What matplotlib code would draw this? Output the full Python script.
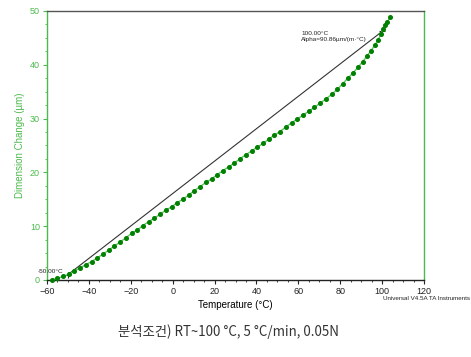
import matplotlib
matplotlib.use('Agg')
import matplotlib.pyplot as plt
from matplotlib.ticker import MultipleLocator

plt.rcParams['font.family'] = ['Liberation Sans', 'DejaVu Sans']

# temperature (°C) and dimension change (um)
temp = [-57.8, -55.1, -52.4, -49.6, -47.0, -44.2, -41.5, -38.7, -36.0, -33.3,
        -30.5, -27.9, -25.1, -22.5, -19.55, -16.9, -14.3, -11.4, -8.8, -6.0,
        -3.3, -0.45, 2.2, 5.1, 7.7, 10.3, 13.1, 15.9, 18.65, 21.3,
        23.9, 26.8, 29.45, 32.2, 35.0, 37.75, 40.4, 43.3, 45.9, 48.55,
        51.3, 54.1, 56.85, 59.5, 62.4, 65.0, 67.65, 70.4, 73.1, 75.95,
        78.6, 81.1, 83.6, 86.0, 88.4, 90.8, 92.7, 94.7, 96.6, 98.2,
        99.5, 100.3, 101.4, 102.5, 103.8]
dim = [0.0, 0.3, 0.65, 1.1, 1.65, 2.25, 2.85, 3.4, 4.1, 4.8,
       5.55, 6.3, 7.05, 7.8, 8.7, 9.3, 10.1, 10.85, 11.5, 12.2,
       13.0, 13.6, 14.4, 15.05, 15.8, 16.6, 17.35, 18.15, 18.8, 19.6,
       20.3, 21.05, 21.75, 22.55, 23.3, 24.0, 24.7, 25.4, 26.2, 26.9,
       27.6, 28.45, 29.25, 29.9, 30.7, 31.35, 32.1, 32.85, 33.65, 34.5,
       35.45, 36.45, 37.5, 38.45, 39.5, 40.6, 41.6, 42.6, 43.7, 44.7,
       45.7, 46.6, 47.4, 48.0, 48.8]

# tangent between the two analysis points
tan_t = [-50.0, 100.0]
tan_d = [1.0, 46.2]

green = '#4cbb4c'
dark_green = '#008000'

fig = plt.figure(figsize=(4.71, 3.57), dpi=100)
ax = fig.add_axes([0.0998, 0.2157, 0.8004, 0.7535])

ax.plot(tan_t, tan_d, color='#333333', lw=0.8, marker='+', ms=4.5, mew=0.8)
ax.plot(temp, dim, color='#5cc85c', lw=1.0, marker='o', ms=2.6,
        mfc=dark_green, mec=dark_green, clip_on=False, zorder=3)

ax.set_xlim(-60, 120)
ax.set_ylim(0, 50)
ax.xaxis.set_major_locator(MultipleLocator(20))
ax.xaxis.set_minor_locator(MultipleLocator(5))
ax.yaxis.set_major_locator(MultipleLocator(10))
ax.yaxis.set_minor_locator(MultipleLocator(2.5))

ax.spines['left'].set_color(green)
ax.spines['right'].set_color(green)
ax.spines['top'].set_color('#555555')
ax.spines['bottom'].set_color('#222222')
for s in ax.spines.values():
    s.set_linewidth(1.0)

ax.tick_params(axis='x', which='major', direction='out', length=3, width=0.8,
               labelsize=6.5, pad=2, colors='#222222')
ax.tick_params(axis='x', which='minor', direction='out', length=1.5, width=0.6,
               colors='#222222')
ax.tick_params(axis='y', which='major', direction='out', length=3, width=0.8,
               labelsize=6.5, pad=2, colors=green)
ax.tick_params(axis='y', which='minor', direction='out', length=1.5, width=0.6,
               colors=green)

ax.set_xlabel('Temperature (°C)', fontsize=7, labelpad=3)
ax.set_ylabel('Dimension Change (µm)', fontsize=7, color=green, labelpad=4)

ax.text(-64.3, 1.55, '-50.00°C', fontsize=4.6, color='#222222',
        ha='left', va='center', clip_on=False)
ax.text(61.5, 44.2, '100.00°C\nAlpha=90.86µm/(m·°C)', fontsize=4.6,
        color='#222222', ha='left', va='bottom', linespacing=1.2)

fig.text(0.997, 0.1625, 'Universal V4.5A TA Instruments', fontsize=4.5,
         ha='right', va='center', color='#222222')

fig.text(0.485, 0.072, '분석조건) RT~100 °C, 5 °C/min, 0.05N', fontsize=9.6,
         ha='center', va='center', color='#333333',
         family=['Noto Sans CJK KR', 'DejaVu Sans'])

fig.savefig('out.png', dpi=100)
